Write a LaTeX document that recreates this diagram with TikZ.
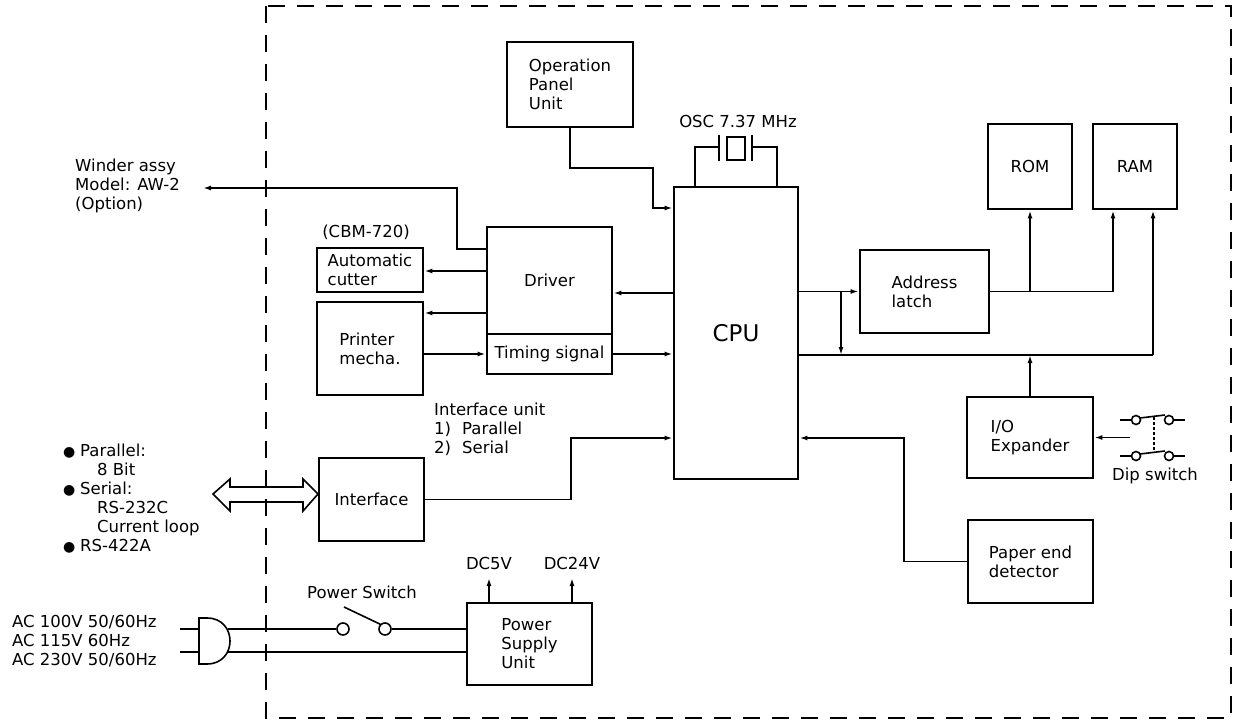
\documentclass[tikz,border=0pt]{standalone}
\usepackage{fontspec}
\setmainfont{DejaVu Sans}
\usetikzlibrary{arrows.meta}
\tikzset{
  blk/.style={draw,line width=2.8pt,inner sep=0pt,align=left},
  lbl/.style={inner sep=0pt,align=left},
  wire/.style={line width=1.6pt},
  arr/.style={wire,-{Latex[length=8pt,width=5pt]}},
  contact/.style={circle,draw,line width=1.6pt,inner sep=0pt,minimum size=12pt}
}
\newcommand{\blt}{\makebox[17pt][l]{\fontsize{14}{14}\selectfont ●}}
\begin{document}
\begin{tikzpicture}[x=1pt,y=-1pt,font=\fontsize{16.5}{19}\selectfont]
\useasboundingbox (0,0) rectangle (1236,722);
\draw[line width=2.2pt,dash pattern=on 17pt off 12pt] (266,6) rectangle (1231,718);
% blocks
\node[blk,minimum width=126pt,minimum height=85pt] (opu) at (570,84.5) {Operation\\Panel\\Unit};
\node[blk,minimum width=124pt,minimum height=292pt,font=\fontsize{23}{27}\selectfont] (cpu) at (736,333) {CPU};
\node[blk,minimum width=125pt,minimum height=107pt] (drv) at (549.5,280.5) {Driver};
\node[blk,minimum width=125pt,minimum height=40pt] (tim) at (549.5,354) {Timing signal};
\node[blk,minimum width=106pt,minimum height=44pt] (cut) at (370,270) {Automatic\\cutter};
\node[blk,minimum width=106pt,minimum height=93pt] (pm) at (370,348.5) {Printer\\mecha.};
\node[blk,minimum width=105pt,minimum height=83pt] (ifc) at (371.5,499.5) {Interface};
\node[blk,minimum width=125pt,minimum height=82pt] (psu) at (529.5,644) {Power\\Supply\\Unit};
\node[blk,minimum width=129pt,minimum height=83pt] (latch) at (924.5,291.5) {Address\\latch};
\node[blk,minimum width=84pt,minimum height=85pt] (rom) at (1030,166.5) {ROM};
\node[blk,minimum width=84pt,minimum height=85pt] (ram) at (1135,166.5) {RAM};
\node[blk,minimum width=126pt,minimum height=81pt] (iox) at (1030,437.5) {I/O\\Expander};
\node[blk,minimum width=125pt,minimum height=83pt] (ped) at (1030.5,561.5) {Paper end\\detector};
% labels
\node[lbl,anchor=west] (wnd) at (75,186) {Winder assy\\Model: AW-2\\(Option)};
\node[lbl] (cbm) at (366,232) {(CBM-720)};
\node[lbl,anchor=west] (ifu) at (434,429) {Interface unit\\\makebox[28pt][l]{1)}Parallel\\\makebox[28pt][l]{2)}Serial};
\node[lbl,anchor=west] (ext) at (63,499) {\blt Parallel:\\\hspace*{34pt}8 Bit\\\blt Serial:\\\hspace*{34pt}RS-232C\\\hspace*{34pt}Current loop\\\blt RS-422A};
\node[lbl,anchor=west] (ac) at (12,641) {AC 100V 50/60Hz\\AC 115V 60Hz\\AC 230V 50/60Hz};
\node[lbl] (osc) at (738,121) {OSC 7.37 MHz};
\node[lbl] (psw) at (362,592) {Power Switch};
\node[lbl,anchor=south] (dc5) at (489,570) {DC5V};
\node[lbl,anchor=south] (dc24) at (572,570) {DC24V};
\node[lbl] (dips) at (1155,476) {Dip switch};
\coordinate (wend) at (203,188);
\coordinate (dip) at (1130,437.5);
\coordinate (busL) at (cpu.east |- 0,355);
\coordinate (busR) at (1153,355);
% connectors
\draw[arr] (opu.south) |- (653,168) |- (cpu.west |- 0,208);
\draw[arr] (drv.west |- 0,249) -| (457,188) -- (wend);
\draw[arr] (drv.west |- 0,271) -- (cut.east |- 0,271);
\draw[arr] (drv.west |- 0,313) -- (pm.east |- 0,313);
\draw[arr] (pm.east |- tim.west) -- (tim.west);
\draw[arr] (cpu.west |- 0,293) -- (drv.east |- 0,293);
\draw[arr] (tim.east) -- (cpu.west |- tim.east);
\draw[arr] (ifc.east) -| (571,438) -- (cpu.west |- 0,438);
\draw[arr] (ped.west) -| (904,438) -- (cpu.east |- 0,438);
\draw[arr] (cpu.east |- latch.west) -- (latch.west);
\draw[arr] (latch.west -| 841,0) -- (busL -| 841,0);
\draw[wire] (busL) -- (busR);
\draw[arr] (busR) -- (ram.south -| busR);
\draw[arr] (latch.east) -| (ram.south -| 1113,0);
\draw[arr] (latch.east -| rom.south) -- (rom.south);
\draw[arr] (iox.north) -- (iox.north |- busL);
\draw[arr] (dip) -- (iox.east);
\draw[arr] (psu.north -| dc5.south) -- ([yshift=-8pt]dc5.south);
\draw[arr] (psu.north -| dc24.south) -- ([yshift=-8pt]dc24.south);
% oscillator
\draw[wire] (cpu.north -| 695,0) |- (719,147);
\draw[wire] (752,147) -| (cpu.north -| 777,0);
\draw[line width=2pt] (719,135) -- (719,161) (752,135) -- (752,161);
\draw[wire] (727,137) rectangle (745,160);
% interface double arrow
\draw[wire] (213,494) -- (230,479) -- (230,487) -- (303,487) -- (303,479) -- (318,494)
  -- (303,511) -- (303,502) -- (230,502) -- (230,511) -- cycle;
% plug and power switch
\draw[wire] (207,618) -- (199,618) -- (199,664) -- (207,664) .. controls (237.7,664) and (237.7,618) .. (207,618);
\draw[wire] (180,629) -- (199,629) (180,652) -- (199,652);
\node[contact] (sw1) at (343,629) {};
\node[contact] (sw2) at (385,629) {};
\draw[wire] (228,629) -- (sw1.west);
\draw[wire] (344,607) -- (sw2.north west);
\draw[wire] (sw2.east) -- (psu.west |- sw2.east);
\draw[wire] (228,652) -- (psu.west |- 0,652);
% dip switch
\foreach \y in {420,456}{
  \draw[wire] (1120,\y) -- (1131,\y);
  \draw[wire] (1136,\y) circle (4.5);
  \draw[wire] (1140,\y-2) -- (1165,\y-5);
  \draw[wire] (1169,\y) circle (4.5);
  \draw[wire] (1174,\y) -- (1185,\y);
}
\draw[wire,dash pattern=on 3pt off 2pt] (1154,417) -- (1154,452);
\end{tikzpicture}
\end{document}
